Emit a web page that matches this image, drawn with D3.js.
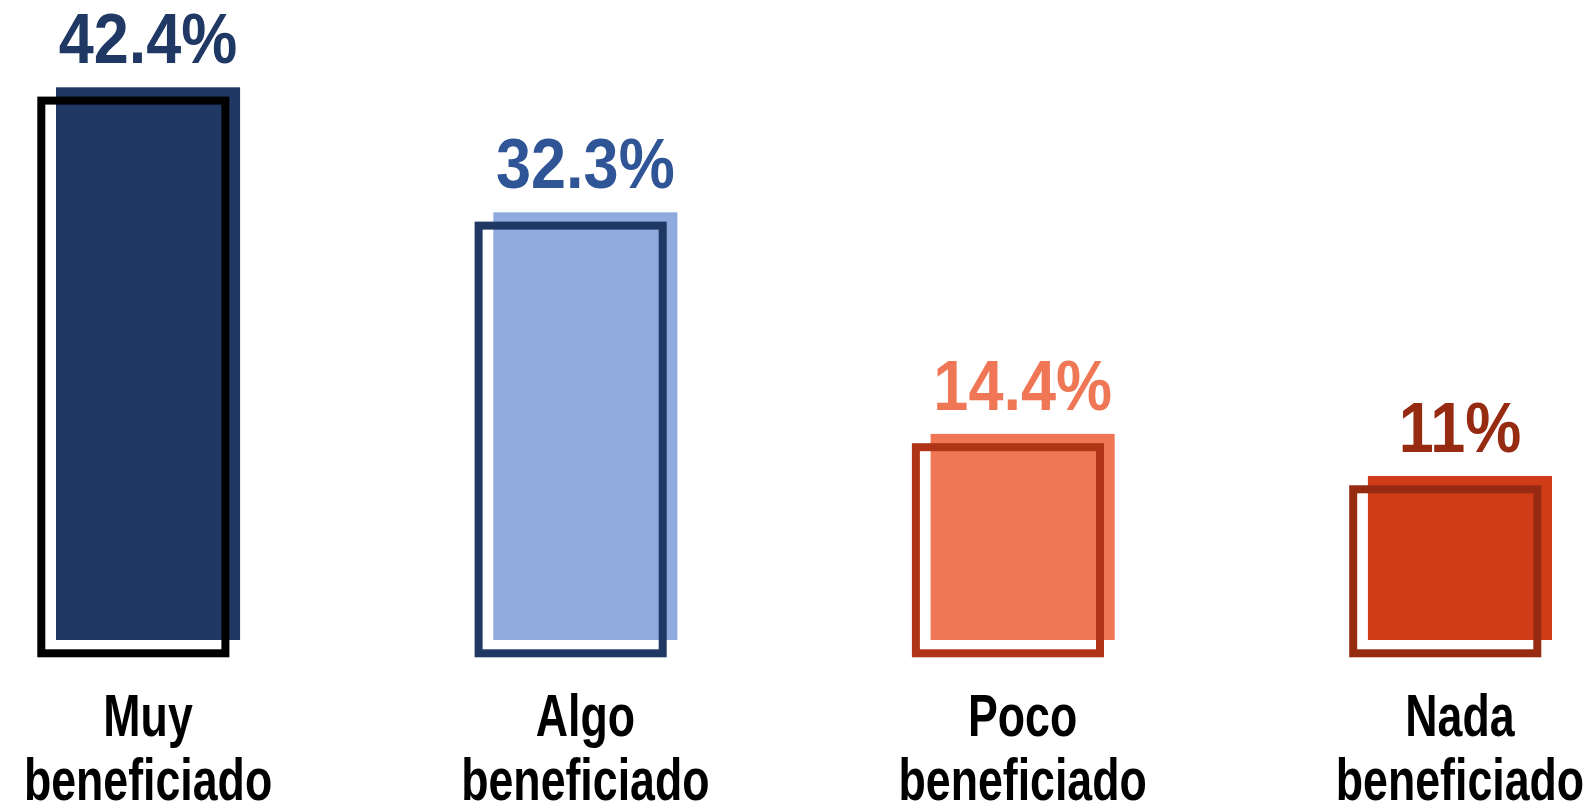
<!DOCTYPE html>
<html>
<head>
<meta charset="utf-8">
<script src="https://cdn.jsdelivr.net/npm/d3@7"></script>
<style>
  html, body { margin: 0; padding: 0; background: #ffffff; overflow: hidden; }
  svg { display: block; }
  text { font-family: "Liberation Sans", Arial, sans-serif; font-weight: bold; }
</style>
</head>
<body>
<svg id="chart" width="1596" height="802"></svg>
<script>
const categories = ["Muy beneficiado", "Algo beneficiado", "Poco beneficiado", "Nada beneficiado"];
const labelLine1 = ["Muy", "Algo", "Poco", "Nada"];
const labelLine2 = ["beneficiado", "beneficiado", "beneficiado", "beneficiado"];
const values = [42.4, 32.3, 14.4, 11];
const valueLabels = ["42.4%", "32.3%", "14.4%", "11%"];
const fillColors = ["#203864", "#8faadc", "#f07756", "#d03c17"];
const outlineColors = ["#000000", "#1f3864", "#b03417", "#962b12"];
const textColors = ["#203864", "#2f5597", "#f07756", "#962b12"];

const svg = d3.select("#chart");
const baseY = 640;

const x = d3.scaleBand().domain(categories).range([56, 1552]).paddingInner(0.579).paddingOuter(0);
const y = d3.scaleLinear().domain([-2.25, 42.4]).range([baseY, 87.3]);

const data = categories.map((c, i) => ({c, i, v: values[i]}));
const dx = -14.7, dy = 13.3, sw = 8;
const cx = d => x(d.c) + x.bandwidth() / 2;

const g = svg.append("g");

// filled bars
g.selectAll("rect.fill").data(data).enter().append("rect")
  .attr("class", "fill")
  .attr("x", d => x(d.c))
  .attr("y", d => y(d.v))
  .attr("width", x.bandwidth())
  .attr("height", d => baseY - y(d.v))
  .attr("fill", d => fillColors[d.i]);

// outline (offset) bars
g.selectAll("rect.outline").data(data).enter().append("rect")
  .attr("class", "outline")
  .attr("x", d => x(d.c) + dx)
  .attr("y", d => y(d.v) + dy)
  .attr("width", x.bandwidth())
  .attr("height", d => baseY - y(d.v))
  .attr("fill", "none")
  .attr("stroke", d => outlineColors[d.i])
  .attr("stroke-width", sw);

// value labels
g.selectAll("text.val").data(data).enter().append("text")
  .attr("class", "val")
  .attr("transform", d => `translate(${cx(d)},${y(d.v) - 24}) scale(0.9,1)`)
  .attr("text-anchor", "middle")
  .attr("font-size", 70)
  .attr("fill", d => textColors[d.i])
  .text(d => valueLabels[d.i]);

// category labels
const lab = g.selectAll("text.cat").data(data).enter().append("text")
  .attr("class", "cat")
  .attr("transform", d => `translate(${cx(d)},0) scale(0.745,1)`)
  .attr("text-anchor", "middle")
  .attr("font-size", 60)
  .attr("fill", "#000000");
lab.append("tspan").attr("x", 0).attr("y", 736).text(d => labelLine1[d.i]);
lab.append("tspan").attr("x", 0).attr("y", 800).text(d => labelLine2[d.i]);
</script>
</body>
</html>
